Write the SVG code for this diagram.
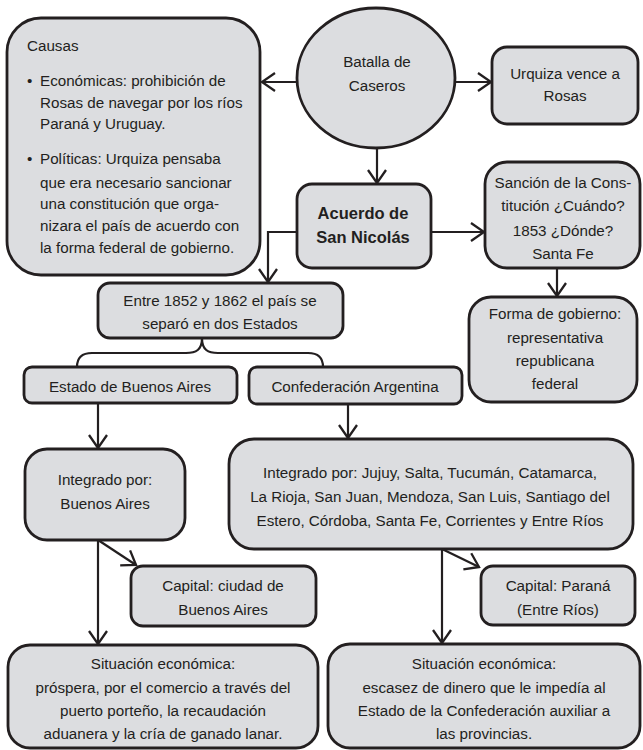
<svg xmlns="http://www.w3.org/2000/svg" width="643" height="750" viewBox="0 0 643 750">
<style>
.box{fill:#dcdde0;stroke:#231f20;stroke-width:2.8}
.t{font-family:'Liberation Sans',Arial,sans-serif;font-size:15.2px;fill:#231f20;text-anchor:middle}
.tl{font-family:'Liberation Sans',Arial,sans-serif;font-size:15.2px;fill:#231f20;text-anchor:start}
.b{font-family:'Liberation Sans',Arial,sans-serif;font-size:16.5px;font-weight:bold;fill:#231f20;text-anchor:middle}
.c{fill:none;stroke:#231f20;stroke-width:2.2}
</style>
<defs>
<marker id="ah" markerUnits="userSpaceOnUse" viewBox="-15 -11 17 22" refX="0" refY="0" markerWidth="17" markerHeight="22" orient="auto">
<path d="M-13,-9 L0,0 L-13,9" fill="none" stroke="#231f20" stroke-width="2.3"/>
</marker>
</defs>
<rect width="643" height="750" fill="#ffffff"/>
<g id="causas">
<rect class="box" x="7" y="18" width="253" height="257" rx="34"/>
<text class="tl" x="27" y="50.5">Causas</text>
<text class="tl" x="27" y="85.5">•</text>
<text class="tl" x="40" y="85.5">Económicas: prohibición de</text>
<text class="tl" x="40" y="107.5">Rosas de navegar por los ríos</text>
<text class="tl" x="40" y="128.5">Paraná y Uruguay.</text>
<text class="tl" x="27" y="163.5">•</text>
<text class="tl" x="40" y="163.5">Políticas: Urquiza pensaba</text>
<text class="tl" x="40" y="187.5">que era necesario sancionar</text>
<text class="tl" x="40" y="208.5">una constitución que orga-</text>
<text class="tl" x="40" y="230.5">nizara el país de acuerdo con</text>
<text class="tl" x="40" y="252.5">la forma federal de gobierno.</text>
</g>
<g id="batalla">
<ellipse class="box" cx="376" cy="78" rx="79" ry="70"/>
<text class="t" x="377" y="67">Batalla de</text>
<text class="t" x="377" y="91">Caseros</text>
</g>
<g id="urquiza">
<rect class="box" x="492" y="47" width="146" height="77" rx="15"/>
<text class="t" x="565" y="78.5">Urquiza vence a</text>
<text class="t" x="565" y="100.5">Rosas</text>
</g>
<g id="acuerdo">
<rect class="box" x="297" y="184" width="134" height="84" rx="15"/>
<text class="b" x="363" y="218.5">Acuerdo de</text>
<text class="b" x="363" y="242.5">San Nicolás</text>
</g>
<g id="sancion">
<rect class="box" x="485" y="162" width="155" height="106" rx="22"/>
<text class="t" x="563" y="187.5">Sanción de la Cons-</text>
<text class="t" x="563" y="210.5">titución ¿Cuándo?</text>
<text class="t" x="563" y="235.5">1853 ¿Dónde?</text>
<text class="t" x="563" y="258.5">Santa Fe</text>
</g>
<g id="entre">
<rect class="box" x="98" y="283" width="245" height="55" rx="12"/>
<text class="t" x="220" y="305.5">Entre 1852 y 1862 el país se</text>
<text class="t" x="220" y="328.5">separó en dos Estados</text>
</g>
<g id="forma">
<rect class="box" x="469" y="297" width="168" height="105" rx="22"/>
<text class="t" x="555" y="318.5">Forma de gobierno:</text>
<text class="t" x="555" y="342.5">representativa</text>
<text class="t" x="555" y="365.5">republicana</text>
<text class="t" x="555" y="388.5">federal</text>
</g>
<g id="estado">
<rect class="box" x="24" y="367" width="213" height="36" rx="8"/>
<text class="t" x="130" y="391.5">Estado de Buenos Aires</text>
</g>
<g id="confederacion">
<rect class="box" x="249" y="367" width="213" height="37" rx="8"/>
<text class="t" x="355" y="391.5">Confederación Argentina</text>
</g>
<g id="integrado-ba">
<rect class="box" x="25" y="449" width="160" height="91" rx="22"/>
<text class="t" x="105" y="484.5">Integrado por:</text>
<text class="t" x="105" y="508.5">Buenos Aires</text>
</g>
<g id="integrado-conf">
<rect class="box" x="229" y="439" width="404" height="110" rx="25"/>
<text class="t" x="430" y="477.5">Integrado por: Jujuy, Salta, Tucumán, Catamarca,</text>
<text class="t" x="430" y="501.5">La Rioja, San Juan, Mendoza, San Luis, Santiago del</text>
<text class="t" x="430" y="525.5">Estero, Córdoba, Santa Fe, Corrientes y Entre Ríos</text>
</g>
<g id="capital-ba">
<rect class="box" x="131" y="566" width="185" height="60" rx="12"/>
<text class="t" x="223" y="590.5">Capital: ciudad de</text>
<text class="t" x="223" y="614.5">Buenos Aires</text>
</g>
<g id="capital-parana">
<rect class="box" x="481" y="566" width="154" height="59" rx="12"/>
<text class="t" x="558" y="590.5">Capital: Paraná</text>
<text class="t" x="558" y="614.5">(Entre Ríos)</text>
</g>
<g id="situacion-ba">
<rect class="box" x="8" y="645" width="310" height="103" rx="22"/>
<text class="t" x="163" y="668.5">Situación económica:</text>
<text class="t" x="163" y="692.5">próspera, por el comercio a través del</text>
<text class="t" x="163" y="715.5">puerto porteño, la recaudación</text>
<text class="t" x="163" y="738.5">aduanera y la cría de ganado lanar.</text>
</g>
<g id="situacion-conf">
<rect class="box" x="328" y="644" width="312" height="104" rx="22"/>
<text class="t" x="484" y="668.5">Situación económica:</text>
<text class="t" x="484" y="692.5">escasez de dinero que le impedía al</text>
<text class="t" x="484" y="715.5">Estado de la Confederación auxiliar a</text>
<text class="t" x="484" y="738.5">las provincias.</text>
</g>
<g id="connectors">
<path class="c" d="M297,82 L262,82" marker-end="url(#ah)"/>
<path class="c" d="M455,82 L491,82" marker-end="url(#ah)"/>
<path class="c" d="M377,148 L377,183" marker-end="url(#ah)"/>
<path class="c" d="M431,232 L484,232" marker-end="url(#ah)"/>
<path class="c" d="M297,232 L268,232 L268,282" marker-end="url(#ah)"/>
<path class="c" d="M557,268 L557,296" marker-end="url(#ah)"/>
<path class="c" d="M202,338 C202,350 196,353 186,353 L92,353 C82,353 77,358 77,367 M202,338 C202,350 208,353 218,353 L308,353 C318,353 323,358 323,367"/>
<path class="c" d="M98,403 L98,448" marker-end="url(#ah)"/>
<path class="c" d="M348,404 L348,438" marker-end="url(#ah)"/>
<path class="c" d="M98,540 L98,644" marker-end="url(#ah)"/>
<path class="c" d="M98,540 L136,565" marker-end="url(#ah)"/>
<path class="c" d="M442,549 L442,643" marker-end="url(#ah)"/>
<path class="c" d="M442,549 L479,567" marker-end="url(#ah)"/>
</g>
</svg>
